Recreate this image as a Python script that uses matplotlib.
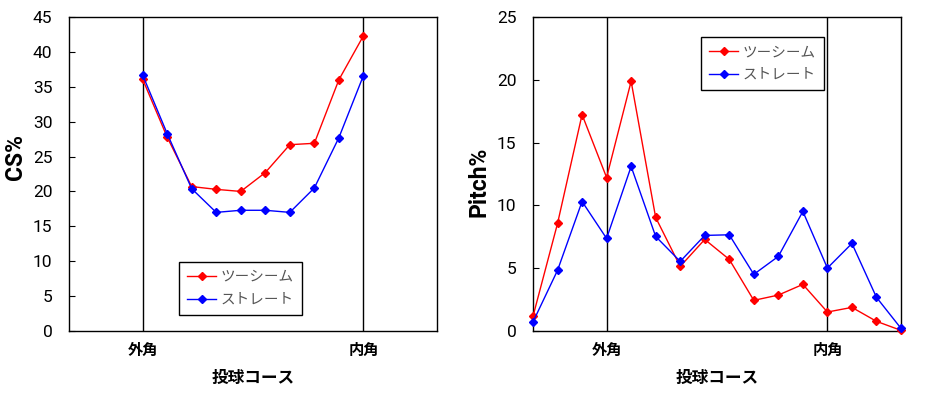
import numpy as np
import matplotlib.pyplot as plt

# 投球コース (0..15)、外角=3, 内角=12
course_cs = [3, 4, 5, 6, 7, 8, 9, 10, 11, 12]
cs_two_seam = [36.1, 27.8, 20.7, 20.3, 20.0, 22.7, 26.7, 26.9, 36.0, 42.3]
cs_straight = [36.7, 28.3, 20.4, 17.0, 17.3, 17.3, 17.0, 20.5, 27.7, 36.6]

course_pitch = list(range(16))
pitch_two_seam = [1.17, 8.56, 17.23, 12.22, 19.88, 9.04, 5.14, 7.29,
                  5.70, 2.44, 2.86, 3.71, 1.51, 1.88, 0.77, 0.05]
pitch_straight = [0.72, 4.83, 10.31, 7.37, 13.10, 7.53, 5.54, 7.61,
                  7.66, 4.51, 5.94, 9.52, 5.01, 6.97, 2.68, 0.21]

corner_pos = [3, 12]
corner_labels = ['外角', '内角']
series_names = ['ツーシーム', 'ストレート']

NUM_FONT = ['Liberation Sans Narrow', 'Roboto', 'DejaVu Sans']
JP_FONT = ['Noto Sans CJK JP', 'DejaVu Sans']

fig = plt.figure(figsize=(9.25, 3.93), dpi=100)


def setup_axes(ax, ymax, ylabel, label_y, legend_anchor):
    ax.set_xlim(0, 15)
    ax.set_ylim(0, ymax)
    ax.set_yticks(np.arange(0, ymax + 1, 5))
    for lab in ax.get_yticklabels():
        lab.set_fontfamily(NUM_FONT)
        lab.set_fontsize(12.5)
    ax.tick_params(axis='y', direction='in', length=4, width=0.8, pad=12)
    ax.set_xticks(corner_pos)
    ax.set_xticklabels(corner_labels, fontfamily=JP_FONT, fontsize=11,
                       fontweight='bold')
    ax.tick_params(axis='x', length=0, pad=8)
    for x in corner_pos:
        ax.axvline(x, color='black', lw=1.0, zorder=1)
    for sp in ax.spines.values():
        sp.set_linewidth(1.0)
    ax.set_xlabel('投球コース', fontfamily=JP_FONT, fontsize=12,
                  fontweight='bold', labelpad=8)
    ax.set_ylabel(ylabel, fontfamily=NUM_FONT, fontsize=16.5,
                  fontweight='bold')
    ax.yaxis.set_label_coords(-0.115, label_y)
    leg = ax.legend(loc='upper left', bbox_to_anchor=legend_anchor,
                    fancybox=False, framealpha=1, edgecolor='black',
                    prop={'family': JP_FONT, 'size': 10.5},
                    handlelength=2.0, borderpad=0.55, labelspacing=0.6,
                    handletextpad=0.3, borderaxespad=0)
    leg.get_frame().set_linewidth(1.0)
    for t in leg.get_texts():
        t.set_color('#555555')


ax1 = fig.add_axes([69 / 925, 62 / 393, 368 / 925, 314 / 393])
ax1.plot(course_cs, cs_two_seam, color='red', marker='D', ms=4.5, lw=1.0,
         label=series_names[0], zorder=3)
ax1.plot(course_cs, cs_straight, color='blue', marker='D', ms=4.5, lw=1.0,
         label=series_names[1], zorder=3)
setup_axes(ax1, 45, 'CS%', 0.553, (0.299, 0.22))

ax2 = fig.add_axes([533 / 925, 62 / 393, 368 / 925, 314 / 393])
ax2.plot(course_pitch, pitch_two_seam, color='red', marker='D', ms=4.5,
         lw=1.0, label=series_names[0], zorder=3, clip_on=False)
ax2.plot(course_pitch, pitch_straight, color='blue', marker='D', ms=4.5,
         lw=1.0, label=series_names[1], zorder=3, clip_on=False)
setup_axes(ax2, 25, 'Pitch%', 0.474, (0.4565, 0.936))

fig.savefig('out.png', dpi=100)
